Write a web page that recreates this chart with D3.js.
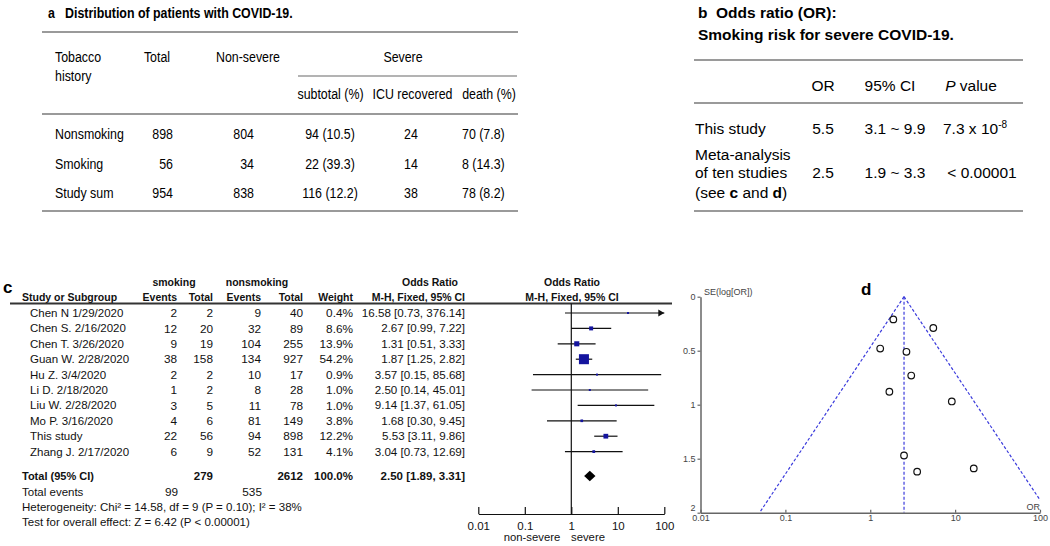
<!DOCTYPE html>
<html>
<head>
<meta charset="utf-8">
<script src="https://cdn.jsdelivr.net/npm/d3@7"></script>
<style>
  html, body { margin: 0; padding: 0; background: #fff; }
  svg { display: block; }
</style>
</head>
<body>
<div id="chart"></div>
<script>
// ---------- Panel a data ----------
const groupsA = ["Nonsmoking", "Smoking", "Study sum"];
const totalsA = [898, 56, 954];
const nonSevereA = [804, 34, 838];
const severeSubA = [94, 22, 116];
const severePctA = [10.5, 39.3, 12.2];
const icuRecoveredA = [24, 14, 38];
const deathsA = [70, 8, 78];
const deathPctA = [7.8, 14.3, 8.2];

// ---------- Panel b data ----------
const orStudy = "5.5", ciStudy = "3.1 ~ 9.9", pStudyBase = "7.3 x 10", pStudyExp = "-8";
const orMeta = "2.5", ciMeta = "1.9 ~ 3.3", pMeta = "< 0.00001";

// ---------- Panel c / d data ----------
const studies = ["Chen N 1/29/2020", "Chen S. 2/16/2020", "Chen T. 3/26/2020", "Guan W. 2/28/2020",
  "Hu Z. 3/4/2020", "Li D. 2/18/2020", "Liu W. 2/28/2020", "Mo P. 3/16/2020", "This study", "Zhang J. 2/17/2020"];
const smokEvents = [2, 12, 9, 38, 2, 1, 3, 4, 22, 6];
const smokTotal = [2, 20, 19, 158, 2, 2, 5, 6, 56, 9];
const nonEvents = [9, 32, 104, 134, 10, 8, 11, 81, 94, 52];
const nonTotal = [40, 89, 255, 927, 17, 28, 78, 149, 898, 131];
const weights = [0.4, 8.6, 13.9, 54.2, 0.9, 1.0, 1.0, 3.8, 12.2, 4.1];
const orVals = [16.58, 2.67, 1.31, 1.87, 3.57, 2.50, 9.14, 1.68, 5.53, 3.04];
const ciLow = [0.73, 0.99, 0.51, 1.25, 0.15, 0.14, 1.37, 0.30, 3.11, 0.73];
const ciHigh = [376.14, 7.22, 3.33, 2.82, 85.68, 45.01, 61.05, 9.45, 9.86, 12.69];
const seLogOR = [1.59, 0.51, 0.48, 0.21, 1.62, 1.47, 0.97, 0.88, 0.29, 0.73];
const pooledOR = 2.50, pooledLo = 1.89, pooledHi = 3.31;
const totalSmok = 279, totalNon = 2612, totalEventsSmok = 99, totalEventsNon = 535;
const forestTicks = [0.01, 0.1, 1, 10, 100];
const funnelXTicks = [0.01, 0.1, 1, 10, 100];
const funnelYTicks = [0, 0.5, 1, 1.5, 2];

const FONT = "'Liberation Sans', Arial, Helvetica, sans-serif";
const W = 1050, H = 546;
const svg = d3.select("#chart").append("svg").attr("width", W).attr("height", H)
  .style("font-family", FONT);
svg.append("rect").attr("width", W).attr("height", H).attr("fill", "#fff");

// ================= Panel a =================
const gA = svg.append("g");
function tA(x, y, s, anchor = "start", weight = "normal") {
  return gA.append("text")
    .attr("transform", `translate(${x},${y}) scale(0.8,1)`)
    .attr("dy", "0.35em").attr("text-anchor", anchor)
    .attr("font-weight", weight).attr("font-size", 15.5).attr("fill", "#000").text(s);
}
function ruleA(x1, x2, y, w = 2) {
  gA.append("line").attr("x1", x1).attr("x2", x2).attr("y1", y).attr("y2", y)
    .attr("stroke", "#9a9a9a").attr("stroke-width", w);
}
tA(48, 13, "a", "start", "bold");
tA(65, 13, "Distribution of patients with COVID-19.", "start", "bold");
ruleA(42, 518, 32);
tA(55, 57, "Tobacco"); tA(55, 76, "history");
tA(157, 57, "Total", "middle");
tA(248, 57, "Non-severe", "middle");
tA(403, 57, "Severe", "middle");
ruleA(298, 517, 76, 1.6);
tA(330.5, 94, "subtotal (%)", "middle");
tA(412.5, 94, "ICU recovered", "middle");
tA(489, 94, "death (%)", "middle");
ruleA(42, 518, 114);
const yA = d3.scalePoint().domain(groupsA).range([134, 193]);
groupsA.forEach((g, i) => {
  const y = yA(g);
  tA(55, y, g);
  tA(173, y, totalsA[i], "end");
  tA(254, y, nonSevereA[i], "end");
  tA(330, y, `${severeSubA[i]} (${severePctA[i].toFixed(1)})`, "middle");
  tA(411, y, icuRecoveredA[i], "middle");
  tA(462, y, `${deathsA[i]} (${deathPctA[i].toFixed(1)})`, "start");
});
ruleA(42, 518, 211);

// ================= Panel b =================
const gB = svg.append("g");
function tB(x, y, s, anchor = "start", weight = "normal") {
  return gB.append("text").attr("x", x).attr("y", y).attr("dy", "0.35em")
    .attr("text-anchor", anchor).attr("font-weight", weight).attr("font-size", 15.5)
    .attr("fill", "#000").text(s);
}
function ruleB(y) {
  gB.append("line").attr("x1", 694).attr("x2", 1023).attr("y1", y).attr("y2", y)
    .attr("stroke", "#9a9a9a").attr("stroke-width", 2);
}
tB(698, 13, "b", "start", "bold");
tB(716, 13, "Odds ratio (OR):", "start", "bold");
tB(698, 35, "Smoking risk for severe COVID-19.", "start", "bold");
ruleB(60);
tB(823, 86, "OR", "middle");
tB(890, 86, "95% CI", "middle");
const pv = tB(971, 86, "", "middle");
pv.append("tspan").attr("font-style", "italic").text("P");
pv.append("tspan").text(" value");
ruleB(103);
tB(695, 129, "This study");
tB(823, 129, orStudy, "middle");
tB(895, 129, ciStudy, "middle");
const ps = tB(943, 129, pStudyBase, "start");
ps.append("tspan").attr("dy", -6).attr("font-size", 10).text(pStudyExp);
tB(695, 155, "Meta-analysis");
tB(695, 173, "of ten studies");
const see = tB(695, 193, "");
see.append("tspan").text("(see ");
see.append("tspan").attr("font-weight", "bold").text("c");
see.append("tspan").text(" and ");
see.append("tspan").attr("font-weight", "bold").text("d");
see.append("tspan").text(")");
tB(823, 173, orMeta, "middle");
tB(895, 173, ciMeta, "middle");
tB(982, 173, pMeta, "middle");
ruleB(211);

// ================= Panel c (forest) =================
const gC = svg.append("g");
svg.append("text").attr("x", 3).attr("y", 287).attr("dy", "0.35em")
  .attr("font-weight", "bold").attr("font-size", 17).text("c");
function tC(x, y, s, anchor = "start", weight = "normal", size = 11.5) {
  return gC.append("text").attr("x", x).attr("y", y).attr("dy", "0.35em")
    .attr("text-anchor", anchor).attr("font-weight", weight).attr("font-size", size)
    .attr("fill", "#111").text(s);
}
// headers
tC(174, 282, "smoking", "middle", "bold", 10.5);
tC(257, 282, "nonsmoking", "middle", "bold", 10.5);
tC(430, 282, "Odds Ratio", "middle", "bold", 10.5);
tC(572, 282, "Odds Ratio", "middle", "bold", 10.5);
tC(22, 297, "Study or Subgroup", "start", "bold", 10.5);
tC(177, 297, "Events", "end", "bold", 10.5);
tC(213, 297, "Total", "end", "bold", 10.5);
tC(261, 297, "Events", "end", "bold", 10.5);
tC(303, 297, "Total", "end", "bold", 10.5);
tC(353, 297, "Weight", "end", "bold", 10.5);
tC(465, 297, "M-H, Fixed, 95% CI", "end", "bold", 10.5);
tC(572, 297, "M-H, Fixed, 95% CI", "middle", "bold", 10.5);
gC.append("line").attr("x1", 10).attr("x2", 672).attr("y1", 303.5).attr("y2", 303.5)
  .attr("stroke", "#333").attr("stroke-width", 2);

const fx = d3.scaleLog().domain([0.01, 100]).range([478.3, 664.3]);
const fy = d3.scalePoint().domain(studies).range([313, 451.6]);
const fmt2 = d3.format(".2f");

studies.forEach((s, i) => {
  const y = fy(s);
  tC(30, y, s);
  tC(177, y, smokEvents[i], "end", "normal", 11.8);
  tC(213, y, smokTotal[i], "end", "normal", 11.8);
  tC(261, y, nonEvents[i], "end", "normal", 11.8);
  tC(303, y, nonTotal[i], "end", "normal", 11.8);
  tC(353, y, weights[i].toFixed(1) + "%", "end", "normal", 11.8);
  tC(465, y, `${fmt2(orVals[i])} [${fmt2(ciLow[i])}, ${fmt2(ciHigh[i])}]`, "end", "normal", 11.6);
});

// total rows
const yTot = 476;
tC(22, yTot, "Total (95% CI)", "start", "bold", 11);
tC(213, yTot, totalSmok, "end", "bold", 11.5);
tC(303, yTot, totalNon, "end", "bold", 11.5);
tC(353, yTot, "100.0%", "end", "bold", 11.5);
tC(465, yTot, `${fmt2(pooledOR)} [${fmt2(pooledLo)}, ${fmt2(pooledHi)}]`, "end", "bold", 11.5);
tC(22, 491.5, "Total events");
tC(178, 491.5, totalEventsSmok, "end", "normal", 11.8);
tC(262, 491.5, totalEventsNon, "end", "normal", 11.8);
tC(22, 507, "Heterogeneity: Chi² = 14.58, df = 9 (P = 0.10); I² = 38%");
tC(22, 522, "Test for overall effect: Z = 6.42 (P < 0.00001)");

// forest graphic
const axisY = 514;
gC.append("line").attr("x1", fx(1)).attr("x2", fx(1)).attr("y1", 303.5).attr("y2", axisY)
  .attr("stroke", "#111").attr("stroke-width", 1.2);
studies.forEach((s, i) => {
  const y = fy(s);
  const hiClip = Math.min(ciHigh[i], 100);
  gC.append("line").attr("x1", fx(ciLow[i])).attr("x2", fx(hiClip)).attr("y1", y).attr("y2", y)
    .attr("stroke", "#111").attr("stroke-width", 1.2);
  if (ciHigh[i] > 100) {
    const xe = fx(100);
    gC.append("path").attr("d", `M${xe},${y} L${xe - 6},${y - 3.5} L${xe - 6},${y + 3.5} Z`).attr("fill", "#111");
  }
  const side = Math.max(2, 1.36 * Math.sqrt(weights[i]));
  gC.append("rect").attr("x", fx(orVals[i]) - side / 2).attr("y", y - side / 2)
    .attr("width", side).attr("height", side).attr("fill", "#14149e");
});
// diamond
gC.append("path").attr("d",
  `M${fx(pooledLo)},${yTot} L${fx(pooledOR)},${yTot - 5.2} L${fx(pooledHi)},${yTot} L${fx(pooledOR)},${yTot + 5.2} Z`)
  .attr("fill", "#000");
// axis
const fAxis = d3.axisBottom(fx).tickValues(forestTicks).tickFormat(d => d)
  .tickSizeInner(-7).tickSizeOuter(0).tickPadding(8);
const fAxG = gC.append("g").attr("transform", `translate(0,${axisY})`).call(fAxis);
fAxG.select(".domain").attr("stroke", "#111").attr("stroke-width", 1.2);
fAxG.selectAll(".tick line").attr("stroke", "#111").attr("stroke-width", 1.2);
fAxG.selectAll(".tick text").attr("font-size", 11.5).attr("font-family", FONT).attr("fill", "#111");
tC(532, 537, "non-severe", "middle", "normal", 11.3);
tC(588, 537, "severe", "middle", "normal", 11.3);

// ================= Panel d (funnel) =================
const gD = svg.append("g");
svg.append("text").attr("x", 861).attr("y", 289).attr("dy", "0.35em")
  .attr("font-weight", "bold").attr("font-size", 17).text("d");
const ux = d3.scaleLog().domain([0.01, 100]).range([700.5, 1040]);
const uy = d3.scaleLinear().domain([0, 2]).range([296.7, 512.7]);

svg.append("defs").append("clipPath").attr("id", "funnelClip")
  .append("rect").attr("x", ux(0.01)).attr("y", uy(0) - 2)
  .attr("width", ux(100) - ux(0.01)).attr("height", uy(2) - uy(0) + 2);

const fg = gD.append("g").attr("clip-path", "url(#funnelClip)");
const seMax = 2;
const leftPts = [[pooledOR, 0], [pooledOR * Math.exp(-1.96 * seMax), seMax]];
const rightPts = [[pooledOR, 0], [pooledOR * Math.exp(1.96 * seMax), seMax]];
const line = d3.line().x(d => ux(d[0])).y(d => uy(d[1]));
[leftPts, rightPts, [[pooledOR, 0], [pooledOR, seMax]]].forEach(p => {
  fg.append("path").attr("d", line(p)).attr("fill", "none")
    .attr("stroke", "#3b3bdc").attr("stroke-width", 1.2).attr("stroke-dasharray", "3,2");
});

const yAx = d3.axisLeft(uy).tickValues(funnelYTicks).tickFormat(d => d).tickSizeInner(3).tickSizeOuter(0).tickPadding(2);
const yAxG = gD.append("g").attr("transform", `translate(${ux(0.01)},0)`).call(yAx);
const xAx = d3.axisBottom(ux).tickValues(funnelXTicks).tickFormat(d => d).tickSizeInner(-3).tickSizeOuter(0).tickPadding(2);
const xAxG = gD.append("g").attr("transform", `translate(0,${uy(2)})`).call(xAx);
[yAxG, xAxG].forEach(g => {
  g.select(".domain").attr("stroke", "#666").attr("stroke-width", 1.5);
  g.selectAll(".tick line").attr("stroke", "#666").attr("stroke-width", 1.2);
  g.selectAll(".tick text").attr("font-size", 9).attr("font-family", FONT).attr("fill", "#444");
});
// keep the lowest y label just above the x-axis labels
yAxG.selectAll(".tick text").filter(d => d === 2).attr("dy", "-0.2em");
gD.append("text").attr("x", 704).attr("y", 292).attr("dy", "0.35em").attr("font-size", 9)
  .attr("fill", "#444").text("SE(log[OR])");
gD.append("text").attr("x", 1040).attr("y", 507).attr("dy", "0.35em").attr("font-size", 9)
  .attr("text-anchor", "end").attr("fill", "#444").text("OR");

gD.selectAll("circle.pt").data(orVals).join("circle").attr("class", "pt")
  .attr("cx", d => ux(d)).attr("cy", (d, i) => uy(seLogOR[i])).attr("r", 3.3)
  .attr("fill", "#fff").attr("stroke", "#111").attr("stroke-width", 1.2);
</script>
</body>
</html>
